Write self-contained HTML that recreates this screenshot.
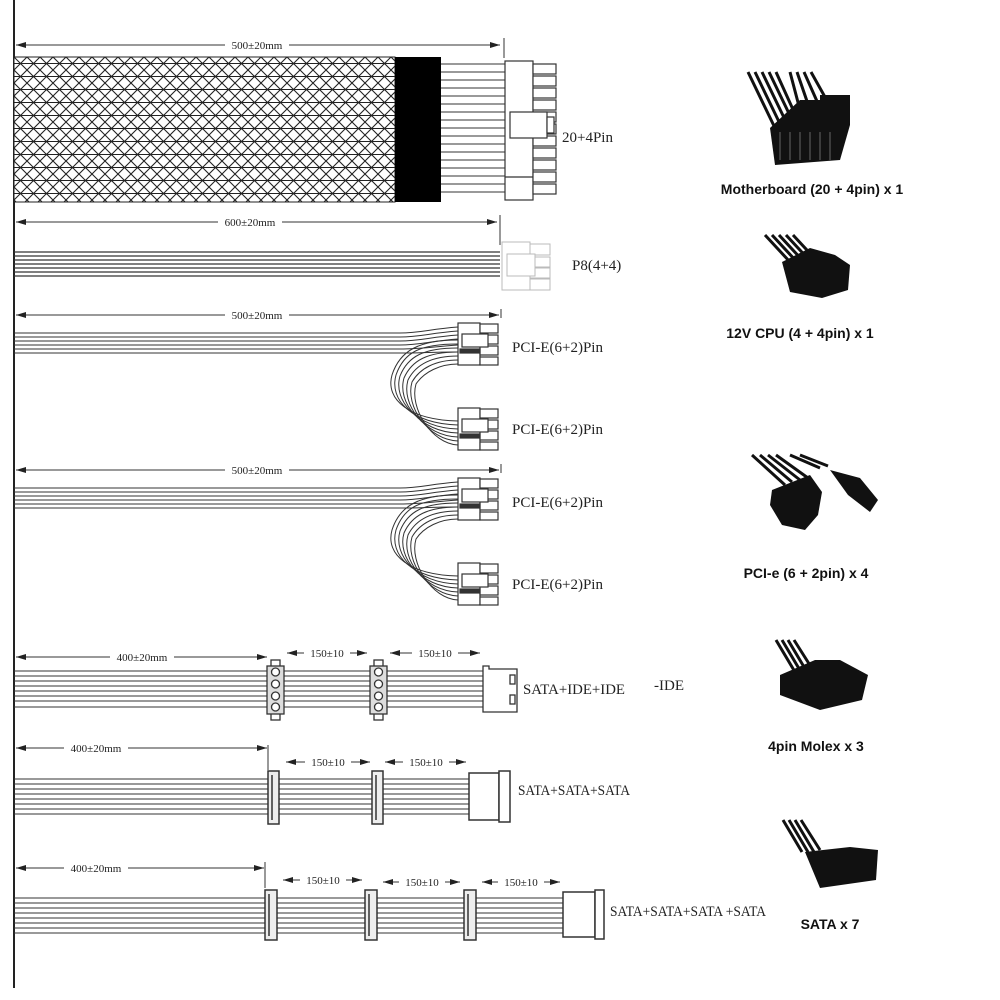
<!DOCTYPE html>
<html><head><meta charset="utf-8"><style>
html,body{margin:0;padding:0;background:#fff;}
svg{display:block;}
.d{font-family:"Liberation Serif",serif;font-size:11px;fill:#222;}
.l{font-family:"Liberation Serif",serif;font-size:15px;fill:#222;}
.r{font-family:"Liberation Sans",sans-serif;font-size:14px;font-weight:bold;fill:#111;}
</style></head><body>
<svg width="1000" height="1000" viewBox="0 0 1000 1000" xmlns="http://www.w3.org/2000/svg">
<defs>
<marker id="a" viewBox="0 0 10 6" refX="10" refY="3" markerWidth="10" markerHeight="6" orient="auto-start-reverse" markerUnits="userSpaceOnUse"><path d="M0,0L10,3L0,6z" fill="#222"/></marker>
<pattern id="mesh" width="13" height="13" patternUnits="userSpaceOnUse" x="14" y="57">
<rect width="13" height="13" fill="#fff"/>
<path d="M0,0L13,13M13,0L0,13M0,6.5H13" stroke="#222" stroke-width="1.1"/>
</pattern>
</defs>
<line x1="14" y1="0" x2="14" y2="988" stroke="#222" stroke-width="2"/>

<!-- Cable 1 -->
<line x1="16" y1="45" x2="500" y2="45" stroke="#333" marker-start="url(#a)" marker-end="url(#a)"/>
<rect x="225" y="39" width="64" height="12" fill="#fff"/><text class="d" x="257" y="49" text-anchor="middle">500±20mm</text>
<line x1="504" y1="38" x2="504" y2="58" stroke="#333"/>
<rect x="14" y="57" width="381" height="145" fill="url(#mesh)" stroke="#222"/>
<rect x="395" y="57" width="46" height="145" fill="#000"/>
<g stroke="#333" stroke-width="1">
<line x1="441" y1="64" x2="505" y2="64"/><line x1="441" y1="72" x2="505" y2="72"/><line x1="441" y1="80" x2="505" y2="80"/><line x1="441" y1="88" x2="505" y2="88"/><line x1="441" y1="96" x2="505" y2="96"/><line x1="441" y1="104" x2="505" y2="104"/><line x1="441" y1="112" x2="505" y2="112"/><line x1="441" y1="120" x2="505" y2="120"/><line x1="441" y1="128" x2="505" y2="128"/><line x1="441" y1="136" x2="505" y2="136"/><line x1="441" y1="144" x2="505" y2="144"/><line x1="441" y1="152" x2="505" y2="152"/><line x1="441" y1="160" x2="505" y2="160"/><line x1="441" y1="168" x2="505" y2="168"/><line x1="441" y1="176" x2="505" y2="176"/><line x1="441" y1="184" x2="505" y2="184"/><line x1="441" y1="192" x2="505" y2="192"/></g>
<g fill="#fff" stroke="#333" stroke-width="1.2">
<rect x="505" y="61" width="28" height="139"/>
<rect x="533" y="64" width="23" height="10"/><rect x="533" y="76" width="23" height="10"/><rect x="533" y="88" width="23" height="10"/><rect x="533" y="100" width="23" height="10"/><rect x="533" y="112" width="23" height="10"/><rect x="533" y="124" width="23" height="10"/><rect x="533" y="136" width="23" height="10"/><rect x="533" y="148" width="23" height="10"/><rect x="533" y="160" width="23" height="10"/><rect x="533" y="172" width="23" height="10"/><rect x="533" y="184" width="23" height="10"/>
<rect x="510" y="112" width="37" height="26"/><rect x="547" y="117" width="7" height="16"/>
<line x1="505" y1="177" x2="533" y2="177"/>
</g>
<text class="l" x="562" y="142">20+4Pin</text>

<!-- Cable 2 -->
<line x1="16" y1="222" x2="497" y2="222" stroke="#333" marker-start="url(#a)" marker-end="url(#a)"/>
<rect x="218" y="216" width="64" height="12" fill="#fff"/><text class="d" x="250" y="226" text-anchor="middle">600±20mm</text>
<line x1="500" y1="215" x2="500" y2="245" stroke="#333"/>
<g stroke="#333" stroke-width="1.3"><line x1="14" y1="252" x2="500" y2="252"/><line x1="14" y1="256" x2="500" y2="256"/><line x1="14" y1="260" x2="500" y2="260"/><line x1="14" y1="264" x2="500" y2="264"/><line x1="14" y1="268" x2="500" y2="268"/><line x1="14" y1="272" x2="500" y2="272"/><line x1="14" y1="276" x2="500" y2="276"/></g>
<g fill="#fff" stroke="#bbb" stroke-width="1"><rect x="502" y="242" width="28" height="48"/><rect x="530" y="244" width="20" height="11"/><rect x="530" y="257" width="20" height="10"/><rect x="530" y="268" width="20" height="10"/><rect x="530" y="279" width="20" height="11"/><rect x="507" y="254" width="28" height="22"/></g>
<text class="l" x="572" y="270">P8(4+4)</text>

<!-- PCI 1 -->
<g id="pci">
<line x1="16" y1="315" x2="499" y2="315" stroke="#333" marker-start="url(#a)" marker-end="url(#a)"/>
<rect x="225" y="309" width="64" height="12" fill="#fff"/><text class="d" x="257" y="319" text-anchor="middle">500±20mm</text>
<line x1="501" y1="309" x2="501" y2="318" stroke="#333"/>
<g stroke="#333" stroke-width="1" fill="none">
<path d="M14,333H400C420,333 430,329 458,327"/><path d="M14,337H400C420,337 430,333 458,331"/><path d="M14,341H400C420,341 430,337 458,335"/><path d="M14,345H400C420,345 430,341 458,339"/><path d="M14,349H400C420,349 430,347 458,345"/><path d="M14,353H400C420,353 430,352 458,352"/>
<path d="M458,340C420,340 400,350 392,375C385,400 410,420 458,421"/>
<path d="M458,344C420,344 404,352 396,375C389,400 412,424 458,425"/>
<path d="M458,348C424,348 408,356 400,376C393,400 416,428 458,429"/>
<path d="M458,352C428,352 412,360 404,378C397,402 420,432 458,433"/>
<path d="M458,356C432,356 416,364 408,380C401,404 424,436 458,437"/>
<path d="M458,360C436,360 420,368 412,382C405,406 428,440 458,441"/>
<path d="M458,364C440,364 424,372 416,384C409,408 432,444 458,445"/>
</g>
<g fill="#fff" stroke="#333" stroke-width="1.2">
<rect x="458" y="323" width="22" height="42"/><rect x="480" y="324" width="18" height="9"/><rect x="480" y="335" width="18" height="9"/><rect x="480" y="346" width="18" height="9"/><rect x="480" y="357" width="18" height="8"/><rect x="462" y="334" width="26" height="13"/><rect x="460" y="349" width="20" height="4" fill="#333"/>
<rect x="458" y="408" width="22" height="42"/><rect x="480" y="409" width="18" height="9"/><rect x="480" y="420" width="18" height="9"/><rect x="480" y="431" width="18" height="9"/><rect x="480" y="442" width="18" height="8"/><rect x="462" y="419" width="26" height="13"/><rect x="460" y="434" width="20" height="4" fill="#333"/>
</g>
<text class="l" x="512" y="352">PCI-E(6+2)Pin</text>
<text class="l" x="512" y="434">PCI-E(6+2)Pin</text>
</g>
<use href="#pci" transform="translate(0,155)"/>

<!-- SATA+IDE -->
<line x1="16" y1="657" x2="267" y2="657" stroke="#333" marker-start="url(#a)" marker-end="url(#a)"/>
<rect x="110" y="651" width="64" height="12" fill="#fff"/><text class="d" x="142" y="661" text-anchor="middle">400±20mm</text>
<line x1="287" y1="653" x2="367" y2="653" stroke="#333" marker-start="url(#a)" marker-end="url(#a)"/>
<rect x="304" y="647" width="46" height="12" fill="#fff"/><text class="d" x="327" y="657" text-anchor="middle">150±10</text>
<line x1="390" y1="653" x2="480" y2="653" stroke="#333" marker-start="url(#a)" marker-end="url(#a)"/>
<rect x="412" y="647" width="46" height="12" fill="#fff"/><text class="d" x="435" y="657" text-anchor="middle">150±10</text>
<g stroke="#333" stroke-width="1.1"><line x1="14" y1="671" x2="485" y2="671"/><line x1="14" y1="676" x2="485" y2="676"/><line x1="14" y1="681" x2="485" y2="681"/><line x1="14" y1="686" x2="485" y2="686"/><line x1="14" y1="691" x2="485" y2="691"/><line x1="14" y1="696" x2="485" y2="696"/><line x1="14" y1="701" x2="485" y2="701"/><line x1="14" y1="707" x2="485" y2="707"/></g>
<g fill="#fff" stroke="#333" stroke-width="1.3">
<rect x="271" y="660" width="9" height="60"/><rect x="267" y="666" width="17" height="48" fill="#ddd"/>
<circle cx="275.5" cy="672" r="4"/><circle cx="275.5" cy="684" r="4"/><circle cx="275.5" cy="696" r="4"/><circle cx="275.5" cy="707" r="4"/>
<rect x="374" y="660" width="9" height="60"/><rect x="370" y="666" width="17" height="48" fill="#ddd"/>
<circle cx="378.5" cy="672" r="4"/><circle cx="378.5" cy="684" r="4"/><circle cx="378.5" cy="696" r="4"/><circle cx="378.5" cy="707" r="4"/>
<path d="M483,666H489V669H517V712H489V712H483Z"/><rect x="510" y="675" width="5" height="9"/><rect x="510" y="695" width="5" height="9"/>
</g>
<text class="l" x="523" y="694" textLength="102" lengthAdjust="spacingAndGlyphs">SATA+IDE+IDE</text>
<text class="l" x="654" y="690">-IDE</text>

<!-- SATA 3 -->
<line x1="16" y1="748" x2="267" y2="748" stroke="#333" marker-start="url(#a)" marker-end="url(#a)"/>
<rect x="64" y="742" width="64" height="12" fill="#fff"/><text class="d" x="96" y="752" text-anchor="middle">400±20mm</text>
<line x1="268" y1="745" x2="268" y2="770" stroke="#333"/>
<line x1="286" y1="762" x2="370" y2="762" stroke="#333" marker-start="url(#a)" marker-end="url(#a)"/>
<rect x="305" y="756" width="46" height="12" fill="#fff"/><text class="d" x="328" y="766" text-anchor="middle">150±10</text>
<line x1="385" y1="762" x2="466" y2="762" stroke="#333" marker-start="url(#a)" marker-end="url(#a)"/>
<rect x="403" y="756" width="46" height="12" fill="#fff"/><text class="d" x="426" y="766" text-anchor="middle">150±10</text>
<g stroke="#333" stroke-width="1.1"><line x1="14" y1="779" x2="470" y2="779"/><line x1="14" y1="784" x2="470" y2="784"/><line x1="14" y1="789" x2="470" y2="789"/><line x1="14" y1="794" x2="470" y2="794"/><line x1="14" y1="799" x2="470" y2="799"/><line x1="14" y1="804" x2="470" y2="804"/><line x1="14" y1="809" x2="470" y2="809"/><line x1="14" y1="814" x2="470" y2="814"/></g>
<g fill="#fff" stroke="#333" stroke-width="1.5">
<rect x="268" y="771" width="11" height="53" fill="#eee"/><line x1="272" y1="775" x2="272" y2="820"/>
<rect x="372" y="771" width="11" height="53" fill="#eee"/><line x1="376" y1="775" x2="376" y2="820"/>
<rect x="469" y="773" width="30" height="47"/><rect x="499" y="771" width="11" height="51"/>
</g>
<text class="l" x="518" y="795" textLength="112" lengthAdjust="spacingAndGlyphs">SATA+SATA+SATA</text>

<!-- SATA 4 -->
<line x1="16" y1="868" x2="264" y2="868" stroke="#333" marker-start="url(#a)" marker-end="url(#a)"/>
<rect x="64" y="862" width="64" height="12" fill="#fff"/><text class="d" x="96" y="872" text-anchor="middle">400±20mm</text>
<line x1="265" y1="862" x2="265" y2="888" stroke="#333"/>
<line x1="283" y1="880" x2="362" y2="880" stroke="#333" marker-start="url(#a)" marker-end="url(#a)"/>
<rect x="300" y="874" width="46" height="12" fill="#fff"/><text class="d" x="323" y="884" text-anchor="middle">150±10</text>
<line x1="383" y1="882" x2="460" y2="882" stroke="#333" marker-start="url(#a)" marker-end="url(#a)"/>
<rect x="399" y="876" width="46" height="12" fill="#fff"/><text class="d" x="422" y="886" text-anchor="middle">150±10</text>
<line x1="482" y1="882" x2="560" y2="882" stroke="#333" marker-start="url(#a)" marker-end="url(#a)"/>
<rect x="498" y="876" width="46" height="12" fill="#fff"/><text class="d" x="521" y="886" text-anchor="middle">150±10</text>
<g stroke="#333" stroke-width="1.1"><line x1="14" y1="898" x2="565" y2="898"/><line x1="14" y1="903" x2="565" y2="903"/><line x1="14" y1="908" x2="565" y2="908"/><line x1="14" y1="913" x2="565" y2="913"/><line x1="14" y1="918" x2="565" y2="918"/><line x1="14" y1="923" x2="565" y2="923"/><line x1="14" y1="928" x2="565" y2="928"/><line x1="14" y1="933" x2="565" y2="933"/></g>
<g fill="#fff" stroke="#333" stroke-width="1.5">
<rect x="265" y="890" width="12" height="50" fill="#eee"/><line x1="269" y1="894" x2="269" y2="936"/>
<rect x="365" y="890" width="12" height="50" fill="#eee"/><line x1="369" y1="894" x2="369" y2="936"/>
<rect x="464" y="890" width="12" height="50" fill="#eee"/><line x1="468" y1="894" x2="468" y2="936"/>
<rect x="563" y="892" width="32" height="45"/><rect x="595" y="890" width="9" height="49"/>
</g>
<text class="l" x="610" y="916" textLength="156" lengthAdjust="spacingAndGlyphs">SATA+SATA+SATA +SATA</text>

<!-- right photos (approximate) -->
<g stroke="#111" stroke-width="3" fill="none">
<path d="M748,72L775,128M755,72L782,128M762,72L789,128M769,72L796,128M776,72L800,125"/>
<path d="M790,72L800,110M797,72L810,110M804,72L820,108M811,72L830,106"/>
<path d="M765,235L790,262M772,235L797,262M779,235L804,262M786,235L811,262M793,235L818,262"/>
<path d="M752,455L785,485M760,455L792,482M768,455L800,480M776,455L808,478M790,455L820,468M800,455L828,466"/>
<path d="M776,640L795,672M782,640L801,672M788,640L807,672M794,640L813,670"/>
<path d="M783,820L802,852M789,820L808,852M795,820L814,852M801,820L820,850"/>
</g>
<g fill="#111">
<path d="M770,128L800,100L850,100L850,125L840,160L775,165Z"/>
<rect x="820" y="95" width="30" height="20"/>
<path d="M782,262L810,248L835,255L850,265L848,290L822,298L790,292Z"/>
<path d="M772,490L810,475L822,492L818,515L805,530L782,525L770,505Z"/>
<path d="M830,470L860,478L878,500L870,512L848,495Z"/>
<path d="M780,675L815,660L840,660L868,675L862,700L820,710L780,695Z"/>
<path d="M805,852L850,847L878,850L876,880L820,888Z"/>
</g>
<g stroke="#666" stroke-width="1"><line x1="780" y1="132" x2="780" y2="160"/><line x1="790" y1="132" x2="790" y2="160"/><line x1="800" y1="132" x2="800" y2="160"/><line x1="810" y1="132" x2="810" y2="160"/><line x1="820" y1="132" x2="820" y2="160"/><line x1="830" y1="132" x2="830" y2="160"/></g>
<text class="r" x="812" y="194" text-anchor="middle">Motherboard (20 + 4pin) x 1</text>
<text class="r" x="800" y="338" text-anchor="middle">12V CPU (4 + 4pin) x 1</text>
<text class="r" x="806" y="578" text-anchor="middle">PCI-e (6 + 2pin) x 4</text>
<text class="r" x="816" y="751" text-anchor="middle">4pin Molex x 3</text>
<text class="r" x="830" y="929" text-anchor="middle">SATA x 7</text>
</svg>
</body></html>
